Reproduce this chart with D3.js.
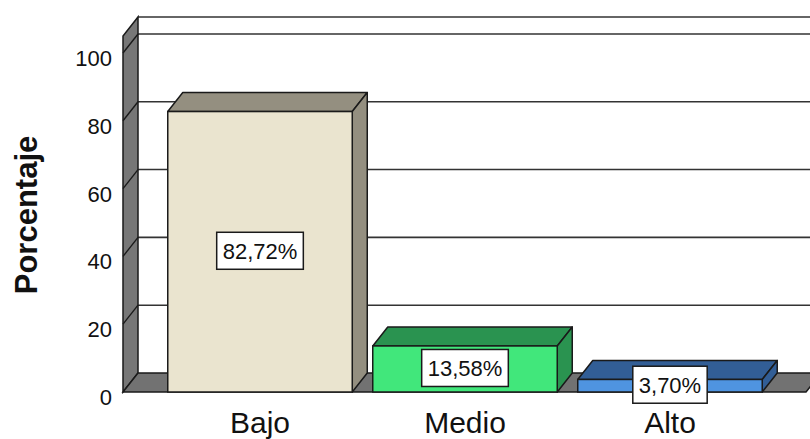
<!DOCTYPE html>
<html>
<head>
<meta charset="utf-8">
<script src="https://cdn.jsdelivr.net/npm/d3@7/dist/d3.min.js"></script>
<style>
html,body{margin:0;padding:0;background:#fff;}
svg{display:block;}
text{font-family:"Liberation Sans",Arial,sans-serif;}
</style>
</head>
<body>
<svg id="chart" width="810" height="439"></svg>
<script>
const categories = ["Bajo", "Medio", "Alto"];
const values = [82.72, 13.58, 3.70];
const valueLabels = ["82,72%", "13,58%", "3,70%"];
const yTicks = [0, 20, 40, 60, 80, 100];
const frontColors = ["#EAE4CF", "#41E77B", "#4F94E0"];
const sideColors = ["#948F80", "#2A9350", "#325E96"];
const axisTitle = "Porcentaje";

const svg = d3.select("#chart");
const W = 810, H = 439;
const dx = 15, dy = -19;
const left = 123, right = 806;

const y = d3.scaleLinear().domain([0, 105]).range([392, 36]);
const x = d3.scaleBand().domain(categories).range([left + 1, right]).paddingInner(0.1).paddingOuter(0.2135);

svg.append("defs").append("clipPath").attr("id", "clip")
  .append("rect").attr("x", 0).attr("y", 0).attr("width", W).attr("height", H);
const g = svg.append("g").attr("clip-path", "url(#clip)");

const yTop = y(105), y0 = y(0);
const stroke = "#1a1a1a";

// back wall
g.append("rect").attr("x", left + dx).attr("y", yTop + dy)
  .attr("width", right - left + 20).attr("height", y0 - yTop)
  .attr("fill", "#fff");

// gridlines on back wall
g.selectAll("line.grid").data(yTicks.filter(d => d > 0).concat([105])).enter()
  .append("line").attr("class", "grid")
  .attr("x1", left + dx).attr("x2", right + dx + 20)
  .attr("y1", d => y(d) + dy).attr("y2", d => y(d) + dy)
  .attr("stroke", "#333").attr("stroke-width", 1.6);

// left wall
g.append("path")
  .attr("d", `M${left},${y0} L${left},${yTop} L${left+dx},${yTop+dy} L${left+dx},${y0+dy} Z`)
  .attr("fill", "#777").attr("stroke", stroke).attr("stroke-width", 1.5);
// tick diagonals on left wall
g.selectAll("line.tk").data(yTicks.filter(d => d > 0)).enter()
  .append("line").attr("class", "tk")
  .attr("x1", left).attr("y1", d => y(d))
  .attr("x2", left + dx).attr("y2", d => y(d) + dy)
  .attr("stroke", stroke).attr("stroke-width", 1.4);

// floor
g.append("path")
  .attr("d", `M${left},${y0} L${left+dx},${y0+dy} L${right+dx},${y0+dy} L${right},${y0} Z`)
  .attr("fill", "#727272").attr("stroke", stroke).attr("stroke-width", 1.5);

// bars
const bars = g.selectAll("g.bar").data(categories).enter().append("g").attr("class", "bar");
bars.each(function(c, i) {
  const b = d3.select(this);
  const x0 = x(c), x1 = x(c) + x.bandwidth();
  const yt = y(values[i]), yb = y(0);
  b.append("path")
    .attr("d", `M${x0},${yt} L${x0+dx},${yt+dy} L${x1+dx},${yt+dy} L${x1},${yt} Z`)
    .attr("fill", sideColors[i]).attr("stroke", stroke).attr("stroke-width", 1.5).attr("stroke-linejoin", "round");
  b.append("path")
    .attr("d", `M${x1},${yt} L${x1+dx},${yt+dy} L${x1+dx},${yb+dy} L${x1},${yb} Z`)
    .attr("fill", sideColors[i]).attr("stroke", stroke).attr("stroke-width", 1.5).attr("stroke-linejoin", "round");
  b.append("rect").attr("x", x0).attr("y", yt).attr("width", x1 - x0).attr("height", yb - yt)
    .attr("fill", frontColors[i]).attr("stroke", stroke).attr("stroke-width", 1.5);
});

// value labels
bars.each(function(c, i) {
  const b = d3.select(this);
  const cx = x(c) + x.bandwidth() / 2;
  const cy = (y(values[i]) + y(0)) / 2 - 1;
  const t = b.append("text").attr("x", cx).attr("y", cy + 8)
    .attr("text-anchor", "middle").attr("font-size", 22).attr("fill", "#111")
    .text(valueLabels[i]);
  const w = t.node().getComputedTextLength() + 12;
  b.insert("rect", "text").attr("x", cx - w / 2).attr("y", cy - 18.5)
    .attr("width", w).attr("height", 37)
    .attr("fill", "#fff").attr("stroke", stroke).attr("stroke-width", 1.5);
});

// y tick labels
svg.selectAll("text.ytl").data(yTicks).enter().append("text").attr("class", "ytl")
  .attr("x", 112).attr("y", d => y(d) + 13)
  .attr("text-anchor", "end").attr("font-size", 22).attr("fill", "#111")
  .text(d => d);

// category labels
svg.selectAll("text.cat").data(categories).enter().append("text").attr("class", "cat")
  .attr("x", d => x(d) + x.bandwidth() / 2).attr("y", 433)
  .attr("text-anchor", "middle").attr("font-size", 30).attr("fill", "#111")
  .text(d => d);

// axis title
svg.append("text")
  .attr("transform", "translate(37,215) rotate(-90)")
  .attr("text-anchor", "middle").attr("font-size", 31).attr("font-weight", "bold").attr("fill", "#111")
  .text(axisTitle);
</script>
</body>
</html>
